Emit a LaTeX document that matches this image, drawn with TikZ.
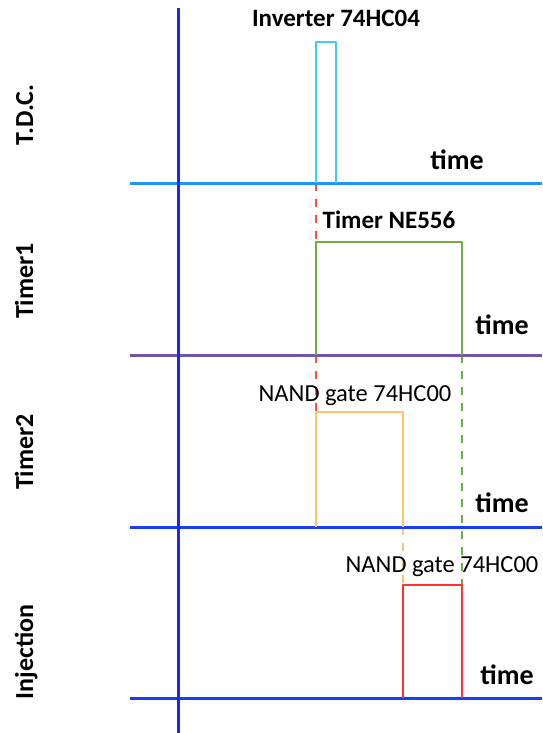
\documentclass[tikz,border=0pt]{standalone}
\usepackage{fontspec}
\setmainfont{Carlito}
\definecolor{axisblue}{RGB}{30,40,230}
\definecolor{tdcblue}{RGB}{30,150,255}
\definecolor{purp}{RGB}{115,85,165}
\definecolor{lineblue}{RGB}{25,60,255}
\definecolor{pcyan}{RGB}{70,200,255}
\definecolor{pgreen}{RGB}{112,173,71}
\definecolor{porange}{RGB}{255,195,110}
\definecolor{pred}{RGB}{255,50,50}
\definecolor{dred}{RGB}{255,80,60}
\tikzset{
  axisline/.style={line width=3pt},
  pulse/.style={line width=2.5pt, line join=round},
  dashline/.style={line width=2.5pt, dash pattern=on 8pt off 8pt},
  lbl/.style={font=\fontsize{25}{28}\selectfont\bfseries, inner sep=0pt, anchor=base},
  glbl/.style={font=\fontsize{24.5}{28}\selectfont, inner sep=0pt, anchor=base},
  tlbl/.style={font=\fontsize{28}{30}\selectfont\bfseries, inner sep=0pt, anchor=base},
  side/.style={font=\fontsize{26}{28}\selectfont\bfseries, inner sep=0pt, rotate=90, anchor=base}
}
\begin{document}
\begin{tikzpicture}[x=1pt,y=-1pt]
\useasboundingbox (0,0) rectangle (542,733);
% baselines
\coordinate (b1l) at (130,183); \coordinate (b1r) at (542,183);
\coordinate (b2l) at (130,355); \coordinate (b2r) at (542,355);
\coordinate (b3l) at (130,527); \coordinate (b3r) at (542,527);
\coordinate (b4l) at (130,698); \coordinate (b4r) at (542,698);
\coordinate (axt) at (178,8); \coordinate (axb) at (178,733);
% pulse corners
\coordinate (t0) at (316,183); \coordinate (t1) at (316,42); \coordinate (t2) at (336,42); \coordinate (t3) at (336,183);
\coordinate (g0) at (316,355); \coordinate (g1) at (316,242); \coordinate (g2) at (462,242); \coordinate (g3) at (462,355);
\coordinate (o0) at (316,527); \coordinate (o1) at (316,412); \coordinate (o2) at (403,412); \coordinate (o3) at (403,527);
\coordinate (r0) at (403,698); \coordinate (r1) at (403,585); \coordinate (r2) at (462,585); \coordinate (r3) at (462,698);
% dashed guides
\draw[dashline, dred] (t0) -- (g1);
\draw[dashline, dred] (g0) -- (o1);
\draw[dashline, pgreen] (g3) -- (r2);
\draw[dashline, porange] (o3) -- (r1);
% baselines
\draw[axisline, tdcblue] (b1l) -- (b1r);
\draw[axisline, purp] (b2l) -- (b2r);
\draw[axisline, lineblue] (b3l) -- (b3r);
\draw[axisline, lineblue] (b4l) -- (b4r);
\draw[axisline, axisblue] (axt) -- (axb);
% pulses
\draw[pulse, pcyan] (t0) -- (t1) -- (t2) -- (t3);
\draw[pulse, pgreen] (g0) -- (g1) -- (g2) -- (g3);
\draw[pulse, porange] (o0) -- (o1) -- (o2) -- (o3);
\draw[pulse, pred] (r0) -- (r1) -- (r2) -- (r3);
% labels
\node[lbl] (inv) at (336,27) {Inverter 74HC04};
\node[lbl] (ne) at (389,228) {Timer NE556};
\node[glbl] (nand1) at (355,401) {NAND gate 74HC00};
\node[glbl] (nand2) at (442,572) {NAND gate 74HC00};
\node[tlbl] (time1) at (457,169) {time};
\node[tlbl] (time2) at (502,334) {time};
\node[tlbl] (time3) at (502,512) {time};
\node[tlbl] (time4) at (507,684) {time};
\node[side] (s1) at (33,115) {T.D.C.};
\node[side] (s2) at (33,281) {Timer1};
\node[side] (s3) at (33,452) {Timer2};
\node[side] (s4) at (33,652) {Injection};
\end{tikzpicture}
\end{document}
